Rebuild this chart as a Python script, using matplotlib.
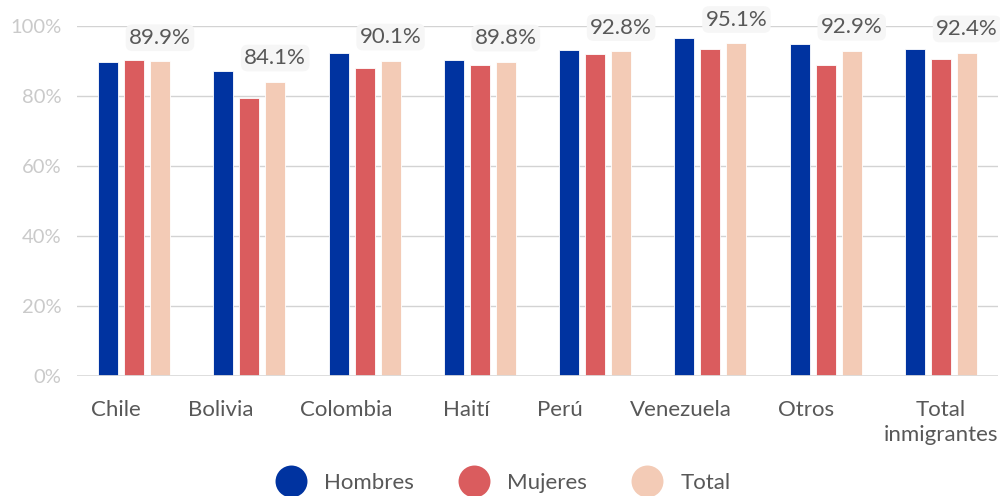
import numpy as np
import matplotlib
matplotlib.use('Agg')
import matplotlib.pyplot as plt
from matplotlib.lines import Line2D

plt.rcParams['font.family'] = ['Lato', 'DejaVu Sans']

# --- data ---
categories = ['Chile', 'Bolivia', 'Colombia', 'Haití', 'Perú', 'Venezuela', 'Otros',
              'Total\ninmigrantes']
hombres = [89.7, 87.1, 92.3, 90.2, 93.1, 96.5, 94.9, 93.5]
mujeres = [90.2, 79.5, 88.0, 88.9, 91.9, 93.5, 88.9, 90.6]
total = [89.9, 84.1, 90.1, 89.8, 92.8, 95.1, 92.9, 92.4]
series_names = ['Hombres', 'Mujeres', 'Total']
colors = ['#0033a0', '#da5c5e', '#f3cbb6']

# category labels sit a little left of the group centre in the original
label_shift = [-0.16, -0.25, -0.16, -0.12, -0.31, -0.26, -0.17, 0.0]

fig = plt.figure(figsize=(10, 4.96), dpi=100)
ax = fig.add_axes([0.077, 0.2419, 0.921, 0.7057])

x = np.arange(len(categories))
bw = 0.1735
pitch = 0.2255
for k, (vals, col) in enumerate(zip([hombres, mujeres, total], colors)):
    ax.bar(x + (k - 1) * pitch, vals, width=bw, color=col,
           edgecolor='white', linewidth=0.6, zorder=3)

# data labels over the "Total" bars
for xi, v in zip(x, total):
    ax.annotate(f'{v:.1f}%', (xi + pitch, v), xytext=(0, 17),
                textcoords='offset points', ha='center', va='center',
                fontsize=16, color='#585858', zorder=5,
                bbox=dict(boxstyle='round,pad=0.15,rounding_size=0.3',
                          fc='#f6f6f6', ec='none'))

ax.set_xlim(-0.494, len(categories) - 1 + 0.494)
ax.set_ylim(0, 100)
ax.set_yticks([0, 20, 40, 60, 80, 100])
ax.set_yticklabels([f'{t}%' for t in [0, 20, 40, 60, 80, 100]])
ax.tick_params(axis='y', length=0, pad=11, labelsize=14.5, labelcolor='#cacaca')
ax.set_xticks([])
ax.grid(axis='y', color='#d3d3d3', linewidth=1, zorder=0)
ax.axhline(0, color='#dcdcdc', linewidth=2, zorder=4)
for s in ax.spines.values():
    s.set_visible(False)

for xi, lab, dx in zip(x, categories, label_shift):
    ax.text(xi + dx, -6.8, lab, ha='center', va='top', fontsize=16,
            color='#585858', linespacing=1.35)

handles = [Line2D([], [], marker='o', linestyle='none', markersize=23,
                  markerfacecolor=c, markeredgecolor='none') for c in colors]
fig.legend(handles, series_names, loc='center', bbox_to_anchor=(0.505, 0.027),
           ncol=3, frameon=False, fontsize=16, labelcolor='#585858',
           handlelength=1.0, handletextpad=1.0, columnspacing=2.2)

fig.savefig('out.png', dpi=100, facecolor='white')
